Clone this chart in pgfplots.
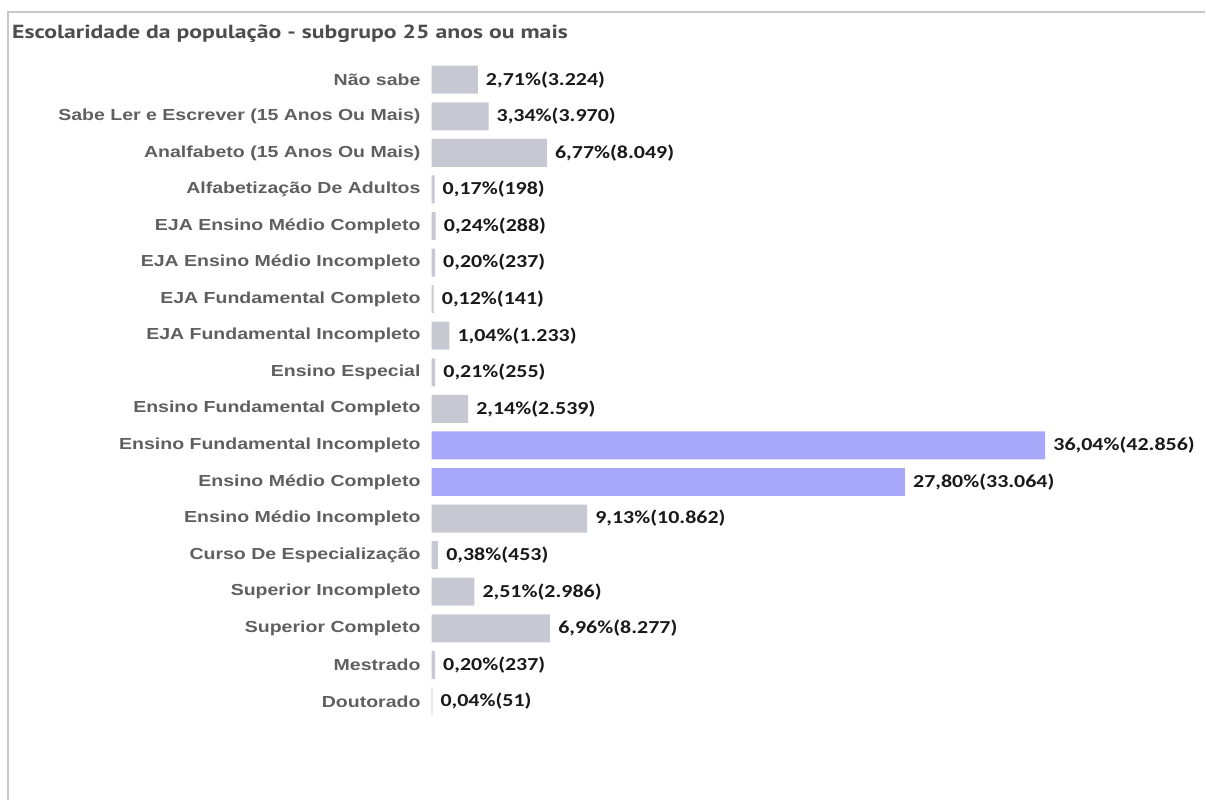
\documentclass[border=0pt]{standalone}
\usepackage{fontspec}
\setmainfont{Liberation Sans}
\newfontfamily\labfont{Liberation Sans}[FakeStretch=1.22]
\newfontfamily\valfont{Carlito}[FakeStretch=1.2]
\newfontfamily\titlefont{PT Sans}[FakeStretch=1.25]
\usepackage{pgfplots}
\usepackage{pgfplotstable}
\pgfplotsset{compat=1.18}
\definecolor{bargray}{RGB}{200,200,210}
\definecolor{barblue}{RGB}{168,168,250}
\definecolor{labgray}{RGB}{95,95,95}
\definecolor{framegray}{RGB}{200,200,200}
\definecolor{titlegray}{RGB}{77,77,77}

\pgfplotstableread{
pos val lab
0 2.71 2,71\%(3.224)
1 3.34 3,34\%(3.970)
2 6.77 6,77\%(8.049)
3 0.17 0,17\%(198)
4 0.24 0,24\%(288)
5 0.20 0,20\%(237)
6 0.12 0,12\%(141)
7 1.04 1,04\%(1.233)
8 0.21 0,21\%(255)
9 2.14 2,14\%(2.539)
12 9.13 9,13\%(10.862)
13 0.38 0,38\%(453)
14 2.51 2,51\%(2.986)
15 6.96 6,96\%(8.277)
16 0.20 0,20\%(237)
17 0.04 0,04\%(51)
}\graydata

\pgfplotstableread{
pos val lab
10 36.04 36,04\%(42.856)
11 27.80 27,80\%(33.064)
}\bluedata

\begin{document}
\begin{tikzpicture}[x=1pt,y=1pt]
\path (0,0) rectangle (1206,801);
\draw[framegray, line width=2pt] (8,0) -- (8,789) -- (1206,789);
\node[anchor=base west, inner sep=0pt, text=titlegray, font=\titlefont\bfseries\fontsize{19}{23}\selectfont] at (12,762) {Escolaridade da população - subgrupo 25 anos ou mais};
\begin{axis}[
  at={(432pt,80.7pt)}, anchor=south west,
  scale only axis, width=748pt, height=658.8pt,
  xmin=0, xmax=43.9, ymin=-0.5, ymax=17.5,
  y dir=reverse,
  axis line style={draw=none},
  xtick=\empty,
  ytick={0,...,17},
  yticklabels={Não sabe, Sabe Ler e Escrever (15 Anos Ou Mais), Analfabeto (15 Anos Ou Mais), Alfabetização De Adultos, EJA Ensino Médio Completo, EJA Ensino Médio Incompleto, EJA Fundamental Completo, EJA Fundamental Incompleto, Ensino Especial, Ensino Fundamental Completo, Ensino Fundamental Incompleto, Ensino Médio Completo, Ensino Médio Incompleto, Curso De Especialização, Superior Incompleto, Superior Completo, Mestrado, Doutorado},
  major tick length=0pt,
  yticklabel style={text=labgray, font=\labfont\bfseries\fontsize{16}{19}\selectfont, anchor=east, inner sep=0pt, xshift=-11pt},
  xbar, bar width=28pt, bar shift=0pt,
  point meta=explicit symbolic,
  nodes near coords,
  nodes near coords style={anchor=west, font=\valfont\bfseries\fontsize{18.3}{22}\selectfont, text=black!90, inner sep=0pt, xshift=8pt},
  clip=false,
]
\addplot[fill=bargray, draw=none] table[x=val, y=pos, meta=lab] {\graydata};
\addplot[fill=barblue, draw=none] table[x=val, y=pos, meta=lab] {\bluedata};
\end{axis}
\end{tikzpicture}
\end{document}
